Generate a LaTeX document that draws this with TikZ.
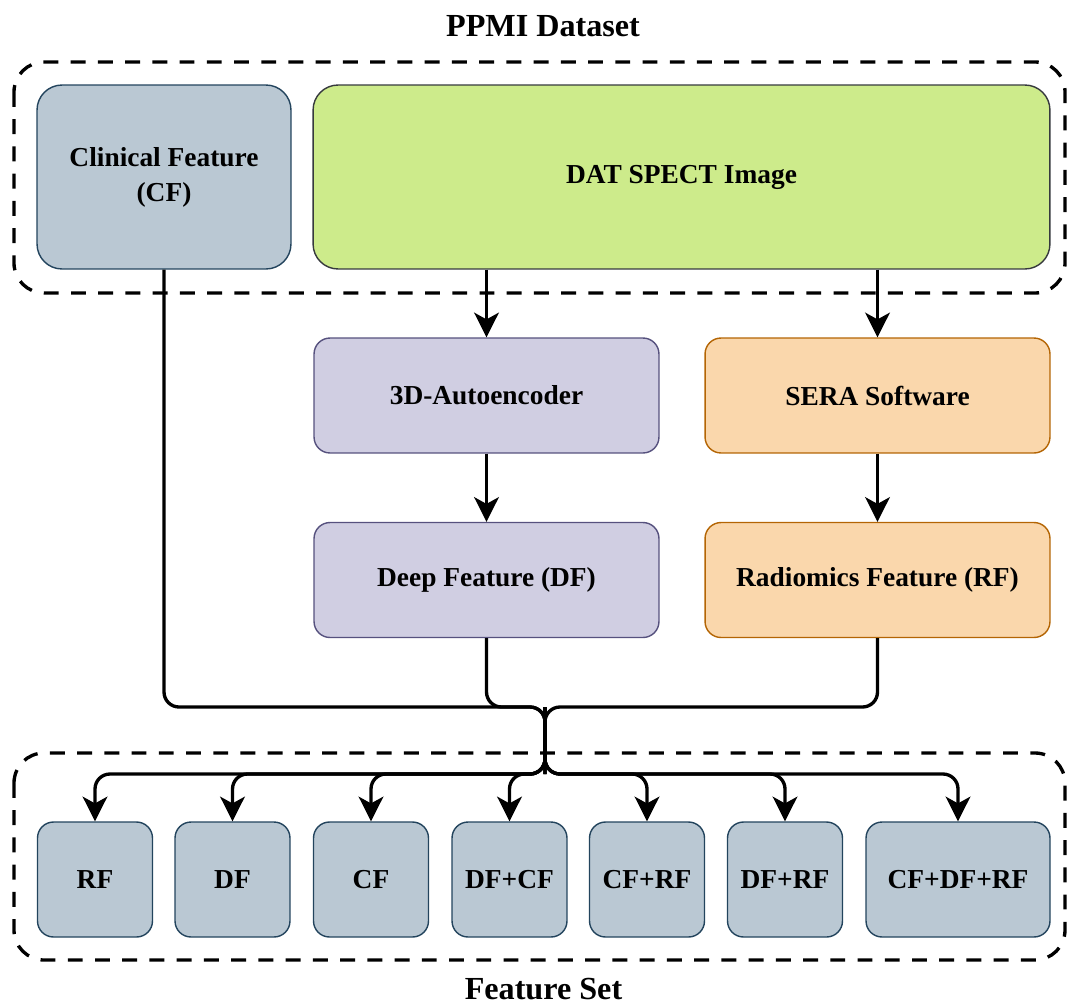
\documentclass[tikz,border=0pt]{standalone}
\usepackage{fontspec}
\setmainfont{Liberation Serif}
\usepackage{xcolor}
\usetikzlibrary{arrows.meta}
\definecolor{slatefill}{HTML}{BAC8D3}
\definecolor{slateline}{HTML}{23445D}
\definecolor{limefill}{HTML}{CDEB8B}
\definecolor{limeline}{HTML}{36393D}
\definecolor{lilacfill}{HTML}{D0CEE2}
\definecolor{lilacline}{HTML}{56517E}
\definecolor{peachfill}{HTML}{FAD7AC}
\definecolor{peachline}{HTML}{B46504}

\begin{document}
\begin{tikzpicture}[x=0.02cm, y=-0.02cm,
  every node/.style={font=\bfseries\fontsize{15.6}{20}\selectfont},
  box/.style={draw, line width=0.8pt, rounded corners=0.32cm, align=center, inner sep=0pt},
  slatebox/.style={box, draw=slateline, fill=slatefill},
  limebox/.style={box, draw=limeline, fill=limefill, rounded corners=0.5cm},
  lilacbox/.style={box, draw=lilacline, fill=lilacfill, minimum width=6.9cm, minimum height=2.3cm},
  peachbox/.style={box, draw=peachline, fill=peachfill, minimum width=6.9cm, minimum height=2.3cm},
  group/.style={draw, line width=1.9pt, dash pattern=on 8.5pt off 7pt, rounded corners=0.6cm},
  wire/.style={line width=1.9pt, rounded corners=0.3cm},
  arrow/.style={wire, -{Stealth[length=14pt, width=14pt, inset=3.8pt]}},
  title/.style={font=\bfseries\fontsize{18.3}{22}\selectfont, inner sep=0pt}]
\useasboundingbox (0,0) rectangle (1067,1004);

% dataset group
\draw[group] (14,62) rectangle (1065,293);
\node[title] (ppmi) at (543,26) {PPMI Dataset};
\node[slatebox, rounded corners=0.5cm, minimum width=5.08cm, minimum height=3.68cm] (cf) at (164,177) {Clinical Feature\\(CF)};
\node[limebox, minimum width=14.74cm, minimum height=3.68cm] (dat) at (681.5,177) {DAT SPECT Image};

% feature extraction
\node[lilacbox] (auto) at (486.5,395.5) {3D-Autoencoder};
\node[lilacbox] (df) at (486.5,580) {Deep Feature (DF)};
\node[peachbox] (sera) at (877.5,395.5) {SERA Software};
\node[peachbox] (rf) at (877.5,580) {Radiomics Feature (RF)};

\draw[arrow] (auto.north |- dat.south) -- (auto.north);
\draw[arrow] (sera.north |- dat.south) -- (sera.north);
\draw[arrow] (auto) -- (df);
\draw[arrow] (sera) -- (rf);

% merge point
\coordinate (jt) at (545,707);
\coordinate (jb) at (545,774);
\draw[wire] (cf.south) |- (jt) -- (jb);
\draw[wire] (df.south) |- (jt) -- (jb);
\draw[wire] (rf.south) |- (jt) -- (jb);

% feature set group
\draw[group] (14,753) rectangle (1065,960);
\node[title] (fset) at (543.5,989) {Feature Set};
\foreach \n/\x/\w/\t in {1/95/2.3cm/RF, 2/232.5/2.3cm/DF, 3/371/2.3cm/CF, 4/509.5/2.3cm/DF+CF,
                         5/647/2.3cm/CF+RF, 6/785/2.3cm/DF+RF, 7/958/3.68cm/CF+DF+RF} {
  \node[slatebox, minimum width=\w, minimum height=2.3cm] (set\n) at (\x,879.5) {\t};
  \draw[arrow] (jt) -- (jb) -| (set\n.north);
}
\end{tikzpicture}
\end{document}
